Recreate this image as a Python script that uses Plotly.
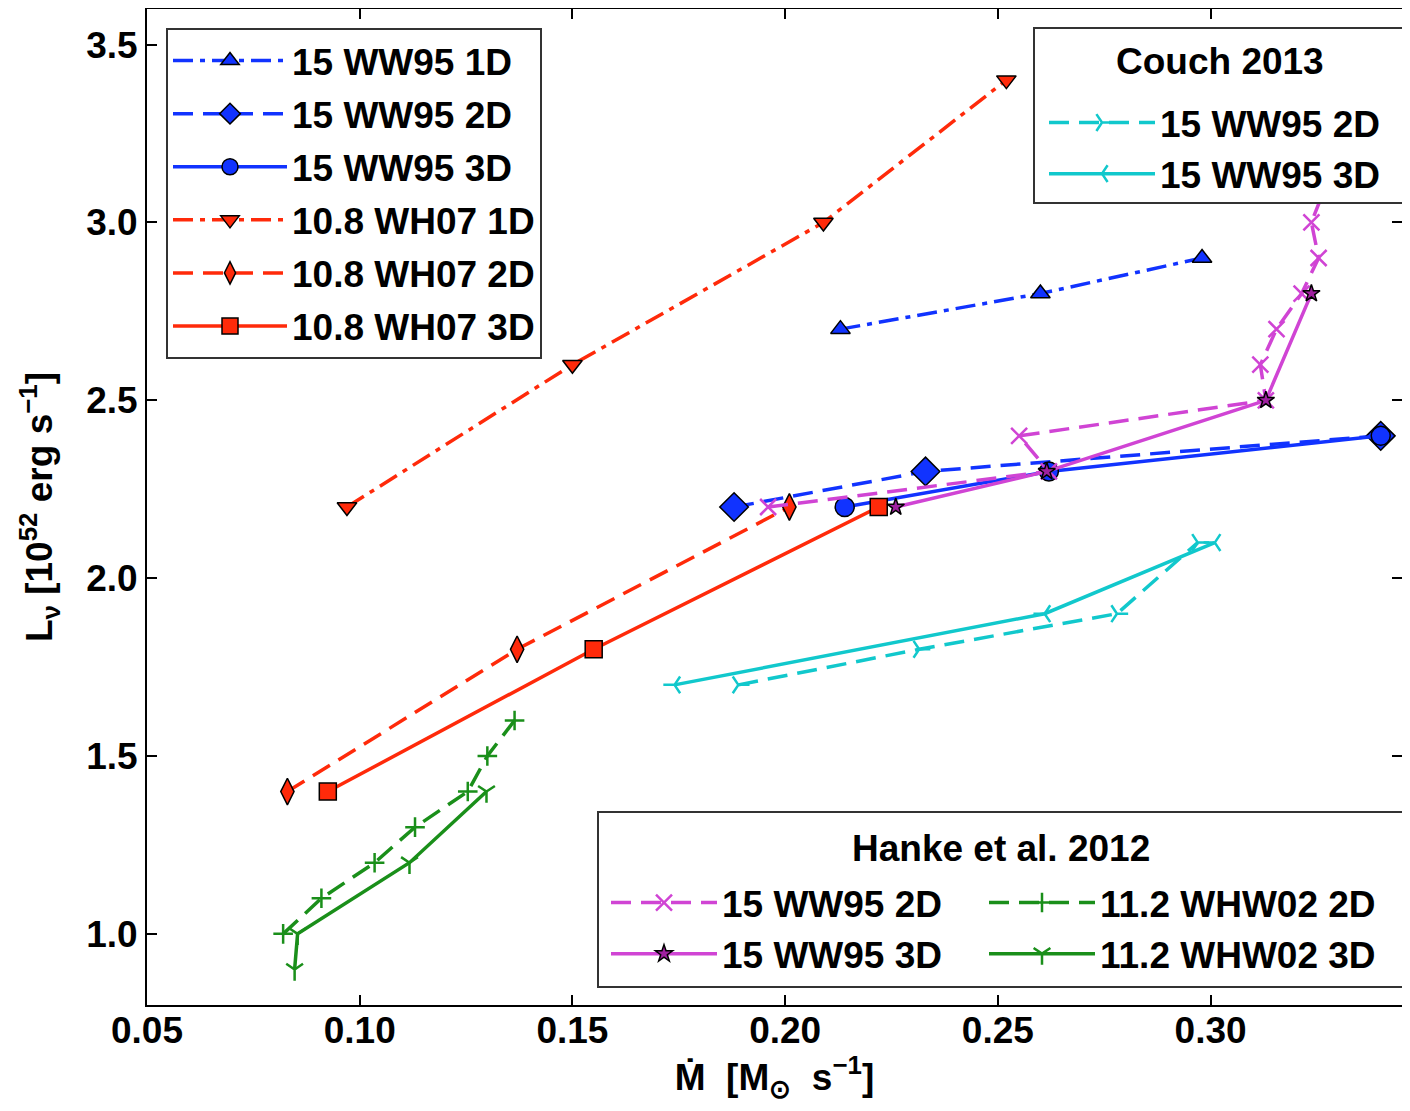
import plotly.graph_objects as go

# ---------------- data ----------------
ww95_1d_x = [0.213, 0.260, 0.298]
ww95_1d_y = [2.7, 2.8, 2.9]
ww95_2d_x = [0.188, 0.233, 0.340]
ww95_2d_y = [2.2, 2.3, 2.4]
ww95_3d_x = [0.214, 0.262, 0.340]
ww95_3d_y = [2.2, 2.3, 2.4]

wh07_1d_x = [0.097, 0.150, 0.209, 0.252]
wh07_1d_y = [2.2, 2.6, 3.0, 3.4]
wh07_2d_x = [0.083, 0.137, 0.201]
wh07_2d_y = [1.4, 1.8, 2.2]
wh07_3d_x = [0.0925, 0.155, 0.222]
wh07_3d_y = [1.4, 1.8, 2.2]

couch_2d_x = [0.189, 0.2315, 0.278, 0.297]
couch_2d_y = [1.7, 1.8, 1.9, 2.1]
couch_3d_x = [0.174, 0.261, 0.301]
couch_3d_y = [1.7, 1.9, 2.1]

hanke15_2d_x = [0.196, 0.262, 0.255, 0.313, 0.3117, 0.3155, 0.3214, 0.3254, 0.3237, 0.327]
hanke15_2d_y = [2.2, 2.3, 2.4, 2.5, 2.6, 2.7, 2.8, 2.9, 3.0, 3.1]
hanke15_3d_x = [0.226, 0.2615, 0.313, 0.3237]
hanke15_3d_y = [2.2, 2.3, 2.5, 2.8]

hanke11_2d_x = [0.082, 0.091, 0.1035, 0.113, 0.1254, 0.130, 0.1364]
hanke11_2d_y = [1.0, 1.1, 1.2, 1.3, 1.4, 1.5, 1.6]
hanke11_3d_x = [0.0847, 0.0854, 0.1117, 0.1298]
hanke11_3d_y = [0.9, 1.0, 1.2, 1.4]

x_ticks = [0.05, 0.10, 0.15, 0.20, 0.25, 0.30]
x_ticklabels = ["0.05", "0.10", "0.15", "0.20", "0.25", "0.30"]
y_ticks = [1.0, 1.5, 2.0, 2.5, 3.0, 3.5]
y_ticklabels = ["1.0", "1.5", "2.0", "2.5", "3.0", "3.5"]

# ---------------- styles ----------------
BLUE = "#1133ff"
RED = "#ff2a0a"
CYAN = "#11c8cc"
MAGENTA = "#d044d4"
GREEN = "#1a8f1a"
FONT = "Liberation Sans"
FS = 37
DASH = "20px,10px"
DASHDOT = "20px,7px,5px,7px"
LW = 3.5

fig = go.Figure()

def add(x, y, name, color, dash, symbol, size, legend, group, fill=None, lw=LW, edge="black", ew=1.5):
    fig.add_trace(go.Scatter(
        x=x, y=y, name=name, mode="lines+markers", legend=legend, legendgroup=group,
        line=dict(color=color, width=lw, dash=dash),
        marker=dict(symbol=symbol, size=size, color=fill if fill else color,
                    line=dict(color=edge, width=ew)),
    ))

# legend 1
add(ww95_1d_x, ww95_1d_y, "15 WW95 1D", BLUE, DASHDOT, "triangle-up", 17, "legend", "a")
add(ww95_2d_x, ww95_2d_y, "15 WW95 2D", BLUE, DASH, "diamond", 22, "legend", "b")
add(ww95_3d_x, ww95_3d_y, "15 WW95 3D", BLUE, "solid", "circle", 19, "legend", "c")
add(wh07_1d_x, wh07_1d_y, "10.8 WH07 1D", RED, DASHDOT, "triangle-down", 17, "legend", "d")
add(wh07_2d_x, wh07_2d_y, "10.8 WH07 2D", RED, DASH, "diamond-tall", 19, "legend", "e")
add(wh07_3d_x, wh07_3d_y, "10.8 WH07 3D", RED, "solid", "square", 17, "legend", "f")

# legend 2 (Couch 2013)
add(couch_2d_x, couch_2d_y, "15 WW95 2D", CYAN, DASH, "y-right", 14, "legend2", "g", edge=CYAN, ew=2.5)
add(couch_3d_x, couch_3d_y, "15 WW95 3D", CYAN, "solid", "y-left", 14, "legend2", "h", edge=CYAN, ew=2.5)

# legend 3/4 (Hanke et al. 2012)
add(hanke15_2d_x, hanke15_2d_y, "15 WW95 2D", MAGENTA, DASH, "x-thin", 16, "legend3", "i", edge=MAGENTA, ew=2.5)
add(hanke15_3d_x, hanke15_3d_y, "15 WW95 3D", MAGENTA, "solid", "star", 13, "legend3", "j", fill="#a020a0")
add(hanke11_2d_x, hanke11_2d_y, "11.2 WHW02 2D", GREEN, DASH, "cross-thin", 14, "legend4", "k", edge=GREEN, ew=2.5)
add(hanke11_3d_x, hanke11_3d_y, "11.2 WHW02 3D", GREEN, "solid", "y-down", 14, "legend4", "l", edge=GREEN, ew=2.5)

# page has an 8px body margin; the figure is placed at (8, 8)
OFF = 8
W, H = 1394, 1095
PL, PR, PT, PB = 147, 1402, 9, 1005   # plot area in page pixels
L, T = PL - OFF, PT - OFF
R = W - (PR - OFF)
B = H - (PB - OFF)
pw, ph = PR - PL, PB - PT

def px(xp):
    return (xp - PL) / pw

def py(yp):
    return (PB - yp) / ph

lfont = dict(family=FONT, size=FS, color="black", weight="bold")
IW = 112
BOX = dict(color="#333333", width=2)

fig.update_layout(
    width=W, height=H,
    margin=dict(l=L, r=R, t=T, b=B, pad=0, autoexpand=False),
    paper_bgcolor="white", plot_bgcolor="white",
    font=dict(family=FONT, size=FS, color="black", weight="bold"),
    legend=dict(x=px(166), y=py(28), xanchor="left", yanchor="top",
                bgcolor="white", bordercolor="#333333", borderwidth=2,
                font=lfont, tracegroupgap=2, itemwidth=IW + 2),
    legend2=dict(x=px(1044), y=py(92), xanchor="left", yanchor="top",
                 bgcolor="rgba(0,0,0,0)", borderwidth=0,
                 font=lfont, tracegroupgap=0, itemwidth=IW - 6),
    legend3=dict(x=px(606), y=py(872), xanchor="left", yanchor="top",
                 bgcolor="rgba(0,0,0,0)", borderwidth=0,
                 font=lfont, tracegroupgap=0, itemwidth=IW - 6),
    legend4=dict(x=px(984), y=py(872), xanchor="left", yanchor="top",
                 bgcolor="rgba(0,0,0,0)", borderwidth=0,
                 font=lfont, tracegroupgap=0, itemwidth=IW - 6),
    shapes=[
        dict(type="rect", xref="paper", yref="paper", layer="above",
             x0=px(1034), x1=px(1403), y0=py(203), y1=py(28),
             fillcolor="white", line=BOX),
        dict(type="rect", xref="paper", yref="paper", layer="above",
             x0=px(598), x1=px(1403), y0=py(987), y1=py(812),
             fillcolor="white", line=BOX),
    ],
    annotations=[
        dict(text="Couch 2013", xref="paper", yref="paper",
             x=px(1220), y=py(62), xanchor="center", yanchor="middle",
             showarrow=False, font=lfont),
        dict(text="Hanke et al. 2012", xref="paper", yref="paper",
             x=px(1001), y=py(848), xanchor="center", yanchor="middle",
             showarrow=False, font=lfont),
    ],
    xaxis=dict(range=[0.05, 0.345], tickvals=x_ticks, ticktext=x_ticklabels,
               showgrid=False, zeroline=False, showline=True, linecolor="black",
               linewidth=2, mirror="ticks", ticks="inside", ticklen=10, tickwidth=2,
               tickcolor="black", tickfont=dict(family=FONT, size=FS, weight="bold"),
               ticklabelstandoff=-8,
               title=dict(text="Ṁ  [M<sub>⊙</sub>  s<sup>−1</sup>]", standoff=12,
                          font=dict(family=FONT, size=FS, weight="bold"))),
    yaxis=dict(range=[0.8, 3.6], tickvals=y_ticks, ticktext=y_ticklabels,
               showgrid=False, zeroline=False, showline=True, linecolor="black",
               linewidth=2, mirror="ticks", ticks="inside", ticklen=10, tickwidth=2,
               tickcolor="black", tickfont=dict(family=FONT, size=FS, weight="bold"),
               title=dict(text="L<sub>ν</sub> [10<sup>52</sup> erg s<sup>−1</sup>]", standoff=22,
                          font=dict(family=FONT, size=FS, weight="bold"))),
    showlegend=True,
)

fig.write_html("out.html")
